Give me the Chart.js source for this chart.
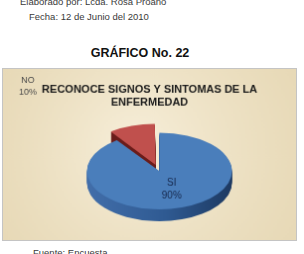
<!DOCTYPE html>
<html>
<head>
<meta charset="utf-8">
<script src="https://cdn.jsdelivr.net/npm/chart.js@4/dist/chart.umd.min.js"></script>
<style>
  body { margin: 0; background: #fff; width: 304px; height: 254px; overflow: hidden; position: relative; font-family: 'Liberation Sans', Arial, sans-serif; }
  .txt { position: absolute; white-space: nowrap; color: #3a3a3a; font-size: 9.5px; }
  #grafico { position: absolute; left: 0; width: 280px; text-align: center; top: 46px; font-weight: bold; font-size: 12.5px; color: #111; }
  #chart { position: absolute; left: 2px; top: 68px; border: 1px solid #c4c4c4; }
</style>
</head>
<body>
<div class="txt" style="left:20px; top:-4px;">Elaborado por: Lcda. Rosa Proaño</div>
<div class="txt" style="left:29px; top:11px;">Fecha: 12 de Junio del 2010</div>
<div id="grafico">GRÁFICO No. 22</div>
<canvas id="chart" width="295" height="173"></canvas>
<div class="txt" style="left:33px; top:247px;">Fuente: Encuesta</div>
<script>
'use strict';

var categories = ['SI', 'NO'];
var values = [90, 10];
var topColors = ['#4a7ebb', '#c0504d'];
var sideColors = ['#2f5a92', '#6a1c1a'];
var chartTitle = ['RECONOCE SIGNOS Y SINTOMAS DE LA', 'ENFERMEDAD'];

// fake 3D: squash the pie vertically and stack darker copies underneath
var SQUASH = 0.53;
var DEPTH = 12;
var SHIFT_X = 10;

var ellipse = function (ctx, arc, dy) {
  ctx.translate(arc.x + SHIFT_X, arc.y + (dy || 0));
  ctx.scale(1, SQUASH);
  ctx.translate(-arc.x, -arc.y);
};

var background = {
  id: 'background',
  beforeDraw: function (chart) {
    var ctx = chart.ctx;
    var w = chart.width, h = chart.height;
    ctx.save();
    ctx.fillStyle = '#ecdfbf';
    ctx.fillRect(0, 0, w, h);
    var g = ctx.createRadialGradient(w * 0.45, h * 0.45, 10, w * 0.5, h * 0.5, w * 0.65);
    g.addColorStop(0, 'rgba(248,240,220,0.85)');
    g.addColorStop(1, 'rgba(226,210,172,0.6)');
    ctx.fillStyle = g;
    ctx.fillRect(0, 0, w, h);
    ctx.restore();
  },
};

var pie3d = {
  id: 'pie3d',
  beforeDatasetsDraw: function (chart) {
    var ctx = chart.ctx;
    var arcs = chart.getDatasetMeta(0).data;
    arcs.forEach(function (arc, i) {
      var side = Object.create(arc);
      var g = ctx.createLinearGradient(arc.x - arc.outerRadius, 0, arc.x + arc.outerRadius, 0);
      g.addColorStop(0, i === 0 ? '#426eaa' : sideColors[i]);
      g.addColorStop(0.55, sideColors[i]);
      g.addColorStop(1, i === 0 ? '#1e3a62' : '#4e1210');
      side.options = Object.assign({}, arc.options, { backgroundColor: g, borderWidth: 0 });
      for (var d = DEPTH; d > 0; d--) {
        ctx.save();
        ellipse(ctx, arc, d);
        side.draw(ctx);
        ctx.restore();
      }
    });
    ctx.save();
    ellipse(ctx, arcs[0], 0);
  },
  afterDatasetsDraw: function (chart) {
    var ctx = chart.ctx;
    ctx.restore();
    var arc = chart.getDatasetMeta(0).data[0];
    var total = values.reduce(function (a, b) { return a + b; }, 0);
    var p = arc.tooltipPosition();
    var x = p.x + SHIFT_X;
    var y = arc.y + (p.y - arc.y) * SQUASH;
    ctx.save();
    ctx.textAlign = 'center';
    ctx.textBaseline = 'middle';
    ctx.font = '10px "Liberation Sans", Arial, sans-serif';
    ctx.fillStyle = '#172a4f';
    ctx.fillText(categories[0], x + 1, y - 6);
    ctx.fillText(Math.round(values[0] / total * 100) + '%', x + 1, y + 7);
    // NO label sits in the top-left corner of the plot
    ctx.fillStyle = '#4a4a4a';
    ctx.font = '9px "Liberation Sans", Arial, sans-serif';
    ctx.fillText(categories[1], 25, 12);
    ctx.fillText(Math.round(values[1] / total * 100) + '%', 25, 24);
    ctx.restore();
  },
};

var ctx = document.getElementById('chart').getContext('2d');
/* eslint-disable-next-line no-unused-vars */
var myChart = new Chart(ctx, {
  type: 'pie',
  plugins: [background, pie3d],
  data: {
    labels: categories,
    datasets: [
      {
        data: values,
        backgroundColor: topColors,
        borderWidth: 0,
        offset: [0, 50],
        clip: false,
      },
    ],
  },
  options: {
    responsive: false,
    animation: false,
    radius: 73,
    layout: { padding: { bottom: 7 } },
    plugins: {
      legend: { display: false },
      tooltip: { enabled: false },
      title: {
        display: true,
        text: chartTitle,
        color: '#1a1a1a',
        font: { family: '"Liberation Sans", Arial, sans-serif', size: 11, weight: 'bold', lineHeight: 1.2 },
        padding: { top: 14, bottom: 0 },
      },
    },
  },
});
</script>
</body>
</html>
